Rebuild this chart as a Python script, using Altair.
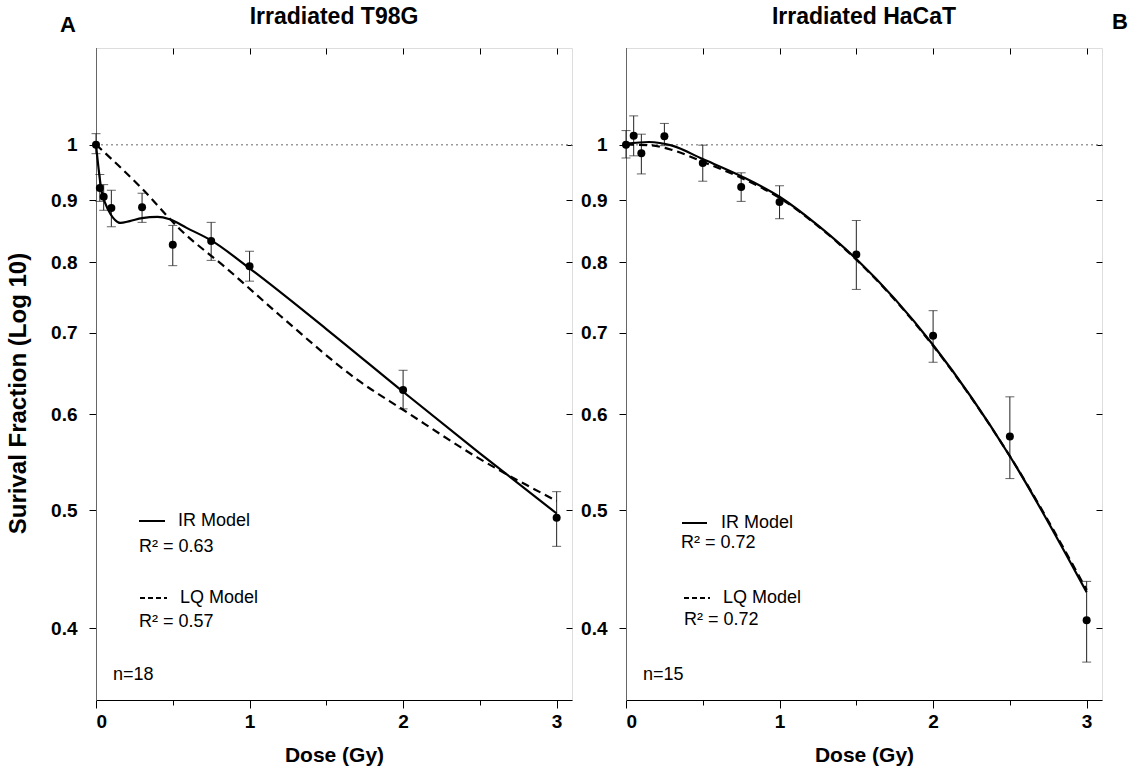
import altair as alt
import pandas as pd

FONT = "Liberation Sans"

# ---------------- data ----------------
# Panel A: Irradiated T98G
t98_dose = [0, 0.025, 0.05, 0.1, 0.3, 0.5, 0.75, 1.0, 2.0, 3.0]
t98_sf = [1.0, 0.921, 0.906, 0.887, 0.888, 0.827, 0.833, 0.794, 0.628, 0.493]
t98_lo = [0.983, 0.898, 0.883, 0.856, 0.863, 0.795, 0.803, 0.772, 0.606, 0.467]
t98_hi = [1.021, 0.945, 0.927, 0.917, 0.912, 0.858, 0.863, 0.817, 0.652, 0.518]

t98_ir_x = [0, 0.037, 0.06, 0.096, 0.124, 0.157, 0.22, 0.3, 0.4, 0.48, 0.59, 0.75, 1.0, 1.5, 2.0, 2.5, 3.0]
t98_ir_y = [1.0, 0.915, 0.895, 0.876, 0.867, 0.862, 0.865, 0.870, 0.872, 0.868, 0.854, 0.834, 0.791, 0.705, 0.626, 0.557, 0.497]
t98_lq_x = [0, 0.3, 0.55, 0.85, 1.2, 1.72, 2.0, 2.48, 3.0]
t98_lq_y = [1.0, 0.92, 0.851, 0.791, 0.723, 0.638, 0.605, 0.553, 0.509]

# Panel B: Irradiated HaCaT
hac_dose = [0, 0.05, 0.1, 0.25, 0.5, 0.75, 1.0, 1.5, 2.0, 2.5, 3.0]
hac_sf = [1.0, 1.017, 0.984, 1.016, 0.966, 0.923, 0.897, 0.812, 0.696, 0.575, 0.406]
hac_lo = [0.975, 0.979, 0.946, 0.998, 0.933, 0.898, 0.869, 0.760, 0.662, 0.531, 0.375]
hac_hi = [1.027, 1.056, 1.020, 1.041, 0.999, 0.948, 0.925, 0.866, 0.730, 0.620, 0.437]

hac_fit_x = [0, 0.15, 0.3, 0.5, 0.75, 1.0, 1.25, 1.5, 2.0, 2.5, 3.0]
hac_ir_y = [1.002, 1.005, 0.998, 0.973, 0.942, 0.906, 0.858, 0.805, 0.684, 0.554, 0.428]
hac_lq_y = [1.0, 0.999, 0.990, 0.968, 0.939, 0.904, 0.857, 0.804, 0.683, 0.554, 0.430]

x_half_ticks = [0, 0.5, 1, 1.5, 2, 2.5, 3]
x_major_ticks = [0, 1, 2, 3]
x_minor_ticks = [0.5, 1.5, 2.5]
y_ticks = [0.4, 0.5, 0.6, 0.7, 0.8, 0.9, 1.0]

# ---------------- chart ----------------
W, H = 476, 652
xs = alt.Scale(domain=[0, 3.1], nice=False, zero=False)
ys = alt.Scale(type="log", domain=[0.349, 1.201], nice=False)


def panel(title, dose, sf, lo, hi, ir_x, ir_y, lq_x, lq_y, xtitle, ytitle, notes, letter):
    pts = pd.DataFrame({"dose": dose, "sf": sf, "lo": lo, "hi": hi})
    ir = pd.DataFrame({"dose": ir_x, "sf": ir_y})
    lq = pd.DataFrame({"dose": lq_x, "sf": lq_y})
    one = pd.DataFrame({"sf": [1.0]})

    left_axis = dict(
        orient="left", values=y_ticks, format="~g", tickSize=7, tickColor="black",
        domainColor="#666", labelFont=FONT, labelFontSize=19, labelFontWeight="bold",
        labelColor="black", labelPadding=12, grid=False,
    )
    if ytitle:
        left_axis.update(title=ytitle, titleFont=FONT, titleFontSize=24, titleFontWeight="bold",
                         titleColor="black", titlePadding=20, titleY=345)
    else:
        left_axis.update(title=None)

    bottom_axis = alt.Axis(
        orient="bottom", values=x_major_ticks, format="~g", tickSize=8, tickColor="black",
        domainColor="black", labelFont=FONT, labelFontSize=19, labelFontWeight="bold",
        labelColor="black", labelPadding=4, grid=False, title=xtitle, titleFont=FONT,
        titleFontSize=21, titleFontWeight="bold", titleColor="black", titlePadding=13,
    )
    minor_axis = alt.Axis(orient="bottom", values=x_minor_ticks, tickSize=5, tickColor="black",
                          domain=False, labels=False, grid=False, title=None)
    top_axis = alt.Axis(orient="top", values=x_half_ticks, tickSize=6, offset=-6, tickColor="black",
                        domain=False, labels=False, grid=False, title=None)
    right_axis = alt.Axis(orient="right", values=y_ticks, tickSize=6, offset=-6, tickColor="black",
                          domain=False, labels=False, grid=False, title=None)

    grid = alt.Chart(one).mark_rule(color="#9a9a9a", strokeDash=[2, 3], strokeWidth=1.5).encode(
        y=alt.Y("sf:Q", scale=ys, axis=None), x=alt.value(0), x2=alt.value(W)
    )
    bars = alt.Chart(pts).mark_rule(color="#222", strokeWidth=1).encode(
        x=alt.X("dose:Q", scale=xs, axis=top_axis),
        y=alt.Y("lo:Q", scale=ys, axis=right_axis),
        y2="hi:Q",
    )
    cap_lo = alt.Chart(pts).mark_tick(orient="horizontal", size=9, thickness=1, color="#222").encode(
        x=alt.X("dose:Q", scale=xs, axis=minor_axis), y=alt.Y("lo:Q", scale=ys, axis=None)
    )
    cap_hi = alt.Chart(pts).mark_tick(orient="horizontal", size=9, thickness=1, color="#222").encode(
        x=alt.X("dose:Q", scale=xs, axis=None), y=alt.Y("hi:Q", scale=ys, axis=None)
    )
    lq_line = alt.Chart(lq).mark_line(color="black", strokeWidth=2.2, strokeDash=[8, 5],
                                      interpolate="monotone").encode(
        x=alt.X("dose:Q", scale=xs, axis=None), y=alt.Y("sf:Q", scale=ys, axis=None)
    )
    ir_line = alt.Chart(ir).mark_line(color="black", strokeWidth=2.2, interpolate="monotone").encode(
        x=alt.X("dose:Q", scale=xs, axis=None), y=alt.Y("sf:Q", scale=ys, axis=None)
    )
    dots = alt.Chart(pts).mark_circle(size=64, color="black", opacity=1).encode(
        x=alt.X("dose:Q", scale=xs, axis=bottom_axis),
        y=alt.Y("sf:Q", scale=ys, axis=alt.Axis(**left_axis)),
    )

    dummy = pd.DataFrame({"k": [0]})
    layers = [grid, bars, cap_lo, cap_hi, lq_line, ir_line, dots]
    # legend samples and notes
    (sx0, sx1, sy), (dx0, dx1, dy), texts = notes
    layers.append(alt.Chart(dummy).mark_rule(color="black", strokeWidth=2).encode(
        x=alt.value(sx0), x2=alt.value(sx1), y=alt.value(sy)))
    layers.append(alt.Chart(dummy).mark_rule(color="black", strokeWidth=2, strokeDash=[5, 3]).encode(
        x=alt.value(dx0), x2=alt.value(dx1), y=alt.value(dy)))
    for txt, tx, ty in texts:
        layers.append(alt.Chart(dummy).mark_text(font=FONT, fontSize=18, align="left", baseline="middle",
                                                 color="black").encode(
            x=alt.value(tx), y=alt.value(ty), text=alt.value(txt)))
    lt, lx, ly = letter
    layers.append(alt.Chart(dummy).mark_text(font=FONT, fontSize=22, fontWeight="bold", align="center",
                                             baseline="middle", color="black").encode(
        x=alt.value(lx), y=alt.value(ly), text=alt.value(lt)))
    # panel title
    layers.append(alt.Chart(dummy).mark_text(font=FONT, fontSize=23, fontWeight="bold", align="center",
                                             baseline="middle", color="black").encode(
        x=alt.value(W / 2), y=alt.value(-31), text=alt.value(title)))

    return alt.layer(*layers).resolve_axis(x="independent", y="independent").properties(
        width=W, height=H,
    )


notes_a = (
    (43, 69, 473), (44, 71, 550),
    [("IR Model", 82, 473), ("R² = 0.63", 43, 499), ("LQ Model", 84, 550),
     ("R² =  0.57", 43, 574), ("n=18", 17, 627)],
)
notes_b = (
    (56, 81, 475), (58, 84, 550),
    [("IR Model", 95, 475), ("R² = 0.72", 55, 495), ("LQ Model", 97, 550),
     ("R² = 0.72", 58, 572), ("n=15", 17, 627)],
)

left = panel("Irradiated T98G", t98_dose, t98_sf, t98_lo, t98_hi, t98_ir_x, t98_ir_y,
             t98_lq_x, t98_lq_y, "Dose (Gy)", "Surival Fraction (Log 10)", notes_a, ("A", -28, -23))
right = panel("Irradiated HaCaT", hac_dose, hac_sf, hac_lo, hac_hi, hac_fit_x, hac_ir_y,
              hac_fit_x, hac_lq_y, "Dose  (Gy)", None, notes_b, ("B", 494, -26))

chart = alt.hconcat(left, right, spacing=54, bounds="flush").configure_view(
    stroke="black", strokeWidth=1
).configure(font=FONT, padding={"left": 6, "top": 5, "right": 5, "bottom": 5})

chart.save("out.html", embed_options={"renderer": "svg", "actions": False})
